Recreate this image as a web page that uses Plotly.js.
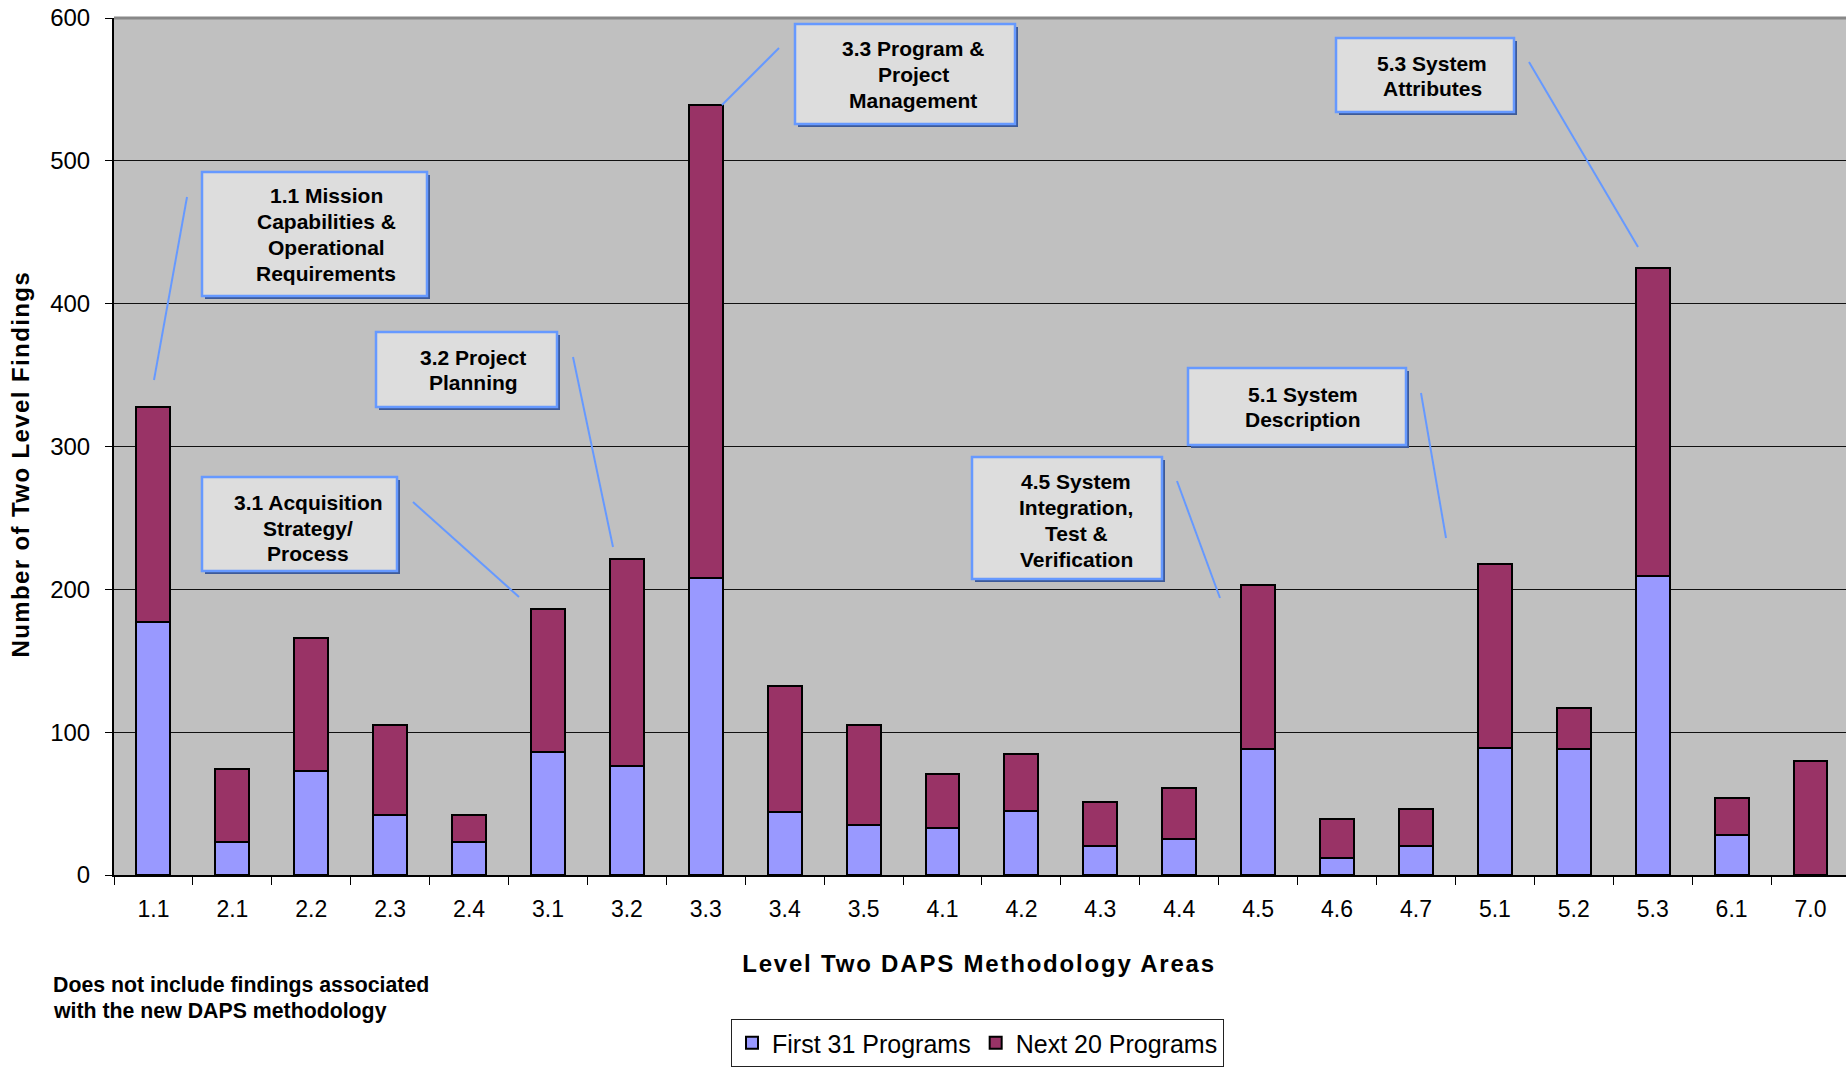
<!DOCTYPE html>
<html>
<head>
<meta charset="utf-8">
<script src="https://cdn.plot.ly/plotly-3.0.1.min.js"></script>
<style>
  html, body { margin: 0; padding: 0; background: #fff; }
  #chart { width: 1846px; height: 1067px; }
</style>
</head>
<body>
<div id="chart"></div>
<script>
// Level two DAPS methodology areas
const areas = ['1.1','2.1','2.2','2.3','2.4','3.1','3.2','3.3','3.4','3.5','4.1',
               '4.2','4.3','4.4','4.5','4.6','4.7','5.1','5.2','5.3','6.1','7.0'];

// Findings per area, first 31 programs
const firstPrograms = [177, 23, 73, 42, 23, 86, 76, 208, 44, 35, 33,
                       45, 20, 25, 88, 12, 20, 89, 88, 209, 28, 0];

// Findings per area, next 20 programs
const nextPrograms  = [151, 51, 93, 63, 19, 100, 145, 331, 88, 70, 38,
                       40, 31, 36, 115, 27, 26, 129, 29, 216, 26, 80];

// Callout texts
const callouts = [
  ['1.1 Mission', 'Capabilities &', 'Operational', 'Requirements'],
  ['3.2 Project', 'Planning'],
  ['3.1 Acquisition', 'Strategy/', 'Process'],
  ['3.3 Program &', 'Project', 'Management'],
  ['5.3 System', 'Attributes'],
  ['5.1 System', 'Description'],
  ['4.5 System', 'Integration,', 'Test &', 'Verification']
];

const seriesNames = ['First 31 Programs', 'Next 20 Programs'];
const xTitle = 'Level Two DAPS Methodology Areas';
const yTitle = 'Number of Two Level Findings';
const footNote = ['Does not include findings associated', 'with the new DAPS methodology'];

// ---- page geometry (pixels) ----
const W = 1846, H = 1067;
const L = 114, T = 18, B = 192, R = 0;
const plotW = W - L - R, plotH = H - T - B;
const px = X => (X - L) / plotW;
const py = Y => (H - B - Y) / plotH;

const FONT = 'Liberation Sans, Arial, sans-serif';
const CALLOUT_LINE = 25.7;

// callout boxes [x0, x1, y0, y1], text centre [x, y], leader [x0, y0, x1, y1]
const calloutGeom = [
  {box: [202, 427, 172, 296], txt: [326, 234.5], lead: [187, 197, 154, 380]},
  {box: [376, 557, 332, 407], txt: [473, 370],   lead: [573, 357, 613, 547]},
  {box: [202, 397, 477, 571], txt: [308, 528],   lead: [413, 502, 519, 597]},
  {box: [795, 1015, 24, 124], txt: [913, 74.5],  lead: [779, 48, 722, 105]},
  {box: [1336, 1514, 38, 112], txt: [1432, 76],  lead: [1529, 62, 1638, 247]},
  {box: [1188, 1406, 368, 445], txt: [1303, 407], lead: [1421, 393, 1446, 538]},
  {box: [972, 1162, 457, 579], txt: [1076, 520.5], lead: [1177, 481, 1220, 598]}
];

const shapes = [];
const annotations = [];

calloutGeom.forEach((g, i) => {
  const [lx0, ly0, lx1, ly1] = g.lead;
  shapes.push({type: 'line', xref: 'paper', yref: 'paper', layer: 'above',
    x0: px(lx0), y0: py(ly0), x1: px(lx1), y1: py(ly1),
    line: {color: '#6699FF', width: 2}});
  const [bx0, bx1, by0, by1] = g.box;
  shapes.push({type: 'rect', xref: 'paper', yref: 'paper', layer: 'above',
    x0: px(bx0 + 3), x1: px(bx1 + 3), y0: py(by0 + 3), y1: py(by1 + 3),
    fillcolor: '#3D5A99', line: {width: 0}});
  shapes.push({type: 'rect', xref: 'paper', yref: 'paper', layer: 'above',
    x0: px(bx0), x1: px(bx1), y0: py(by0), y1: py(by1),
    fillcolor: '#DDDDDD', line: {color: '#6699FF', width: 2.5}});
  const lines = callouts[i];
  lines.forEach((line, k) => {
    const yc = g.txt[1] + (k - (lines.length - 1) / 2) * CALLOUT_LINE;
    annotations.push({xref: 'paper', yref: 'paper', x: px(g.txt[0]), y: py(yc),
      xanchor: 'center', yanchor: 'middle', align: 'center', showarrow: false,
      text: line,
      font: {family: FONT, size: 21, color: '#000', weight: 'bold'}});
  });
});

// grey rule along the top of the plot area
shapes.push({type: 'line', xref: 'paper', yref: 'paper', layer: 'above',
  x0: 0, x1: 1, y0: 1, y1: 1, line: {color: '#888888', width: 3}});

// axis titles
annotations.push({xref: 'paper', yref: 'paper', x: px(979), y: py(963),
  xanchor: 'center', yanchor: 'middle', showarrow: false, text: xTitle,
  font: {family: FONT, size: 24, color: '#000', weight: 'bold'}});
annotations.push({xref: 'paper', yref: 'paper', x: px(21), y: py(464),
  xanchor: 'center', yanchor: 'middle', showarrow: false, text: yTitle, textangle: -90,
  font: {family: FONT, size: 24, color: '#000', weight: 'bold'}});

// footnote, one annotation per line
footNote.forEach((line, k) => {
  annotations.push({xref: 'paper', yref: 'paper', x: px(51), y: py(985 + k * 26),
    xanchor: 'left', yanchor: 'middle', align: 'left', showarrow: false,
    text: line,
    font: {family: FONT, size: 21.3, color: '#000', weight: 'bold'}});
});

const barLine = {color: '#000', width: 2};
const traces = [
  {type: 'bar', name: seriesNames[0], x: areas, y: firstPrograms,
   marker: {color: '#9999FF', line: barLine}},
  {type: 'bar', name: seriesNames[1], x: areas, y: nextPrograms,
   marker: {color: '#993366', line: barLine}}
];

const layout = {
  width: W, height: H,
  margin: {l: L, r: R, t: T, b: B, pad: 0},
  paper_bgcolor: '#FFFFFF',
  plot_bgcolor: '#C0C0C0',
  barmode: 'stack',
  bargap: 0.57,
  font: {family: FONT, color: '#000'},
  showlegend: true,
  legend: {
    orientation: 'h', traceorder: 'normal',
    x: px(731), xanchor: 'left', y: py(1019), yanchor: 'top',
    bgcolor: '#FFFFFF', bordercolor: '#222', borderwidth: 1,
    font: {family: FONT, size: 25, color: '#000'},
    itemwidth: 30
  },
  xaxis: {
    type: 'category', range: [-0.5, 21.45], fixedrange: true,
    showline: true, linecolor: '#000', linewidth: 2,
    ticks: 'outside', tickson: 'boundaries', ticklen: 8, tickcolor: '#000', tickwidth: 1,
    tickfont: {family: FONT, size: 23, color: '#000'},
    ticklabelstandoff: 12,
    showgrid: false, zeroline: false
  },
  yaxis: {
    range: [0, 600], dtick: 100, fixedrange: true,
    showline: true, linecolor: '#000', linewidth: 2,
    ticks: 'outside', ticklen: 7, tickcolor: '#000', tickwidth: 1,
    tickfont: {family: FONT, size: 24, color: '#000'},
    ticklabelstandoff: 10,
    showgrid: true, gridcolor: '#111', gridwidth: 1,
    zeroline: false
  },
  shapes: shapes,
  annotations: annotations
};

Plotly.newPlot('chart', traces, layout, {displayModeBar: false, staticPlot: true}).then(gd => {
  // widen the letter spacing of the axis titles
  gd.querySelectorAll('.annotation-text').forEach(t => {
    if (t.textContent === xTitle) t.style.letterSpacing = '1.8px';
    if (t.textContent === yTitle) t.style.letterSpacing = '1.4px';
  });
});
</script>
</body>
</html>
